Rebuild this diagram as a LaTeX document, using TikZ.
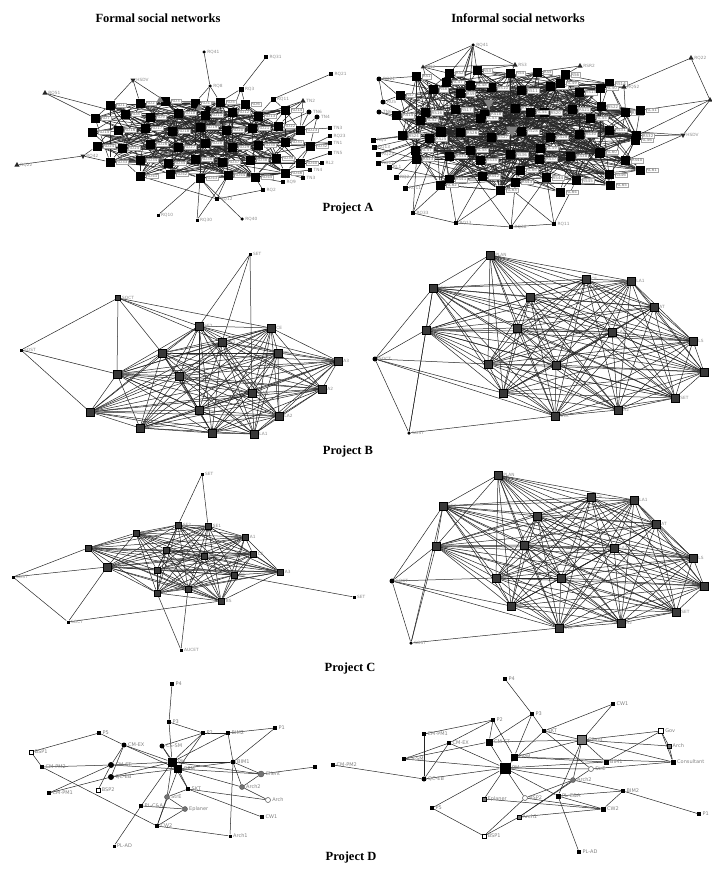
\documentclass[tikz,border=0pt]{standalone}
\usepackage{fontspec}
\setmainfont{Liberation Serif}
\newfontfamily\labfont{DejaVu Sans}
\usetikzlibrary{backgrounds,shapes.geometric}

\begin{document}
\begin{tikzpicture}[x=1pt,y=-1pt,
  edge/.style={line width=0.5pt, draw=black!85},
  ttl/.style={font=\fontsize{12.5}{14}\selectfont\bfseries, inner sep=0},
  lab/.style={font=\labfont\fontsize{4.3}{5}\selectfont, text=black!45, inner sep=0.5pt},
  dlab/.style={font=\labfont\fontsize{5}{6}\selectfont, text=black!50, inner sep=0.5pt},
  abox/.style={font=\labfont\fontsize{4}{4.5}\selectfont, text=black!55, fill=white, draw=black!35, line width=0.2pt, inner sep=0.8pt},
  bsq/.style={rectangle, fill=black!78, draw=black, line width=0.3pt, minimum size=7.5pt, inner sep=0},
  csq/.style={bsq, minimum size=6.5pt},
  msq/.style={bsq, minimum size=5pt},
  ssq/.style={rectangle, fill=black, minimum size=3pt, inner sep=0},
  sci/.style={circle, fill=black, minimum size=3.5pt, inner sep=0},
  asq/.style={rectangle, fill=black, minimum size=9pt, inner sep=0},
  atri/.style={regular polygon, regular polygon sides=3, fill=black!85, minimum size=8pt, inner sep=0},
  gtri/.style={atri, fill=black!50},
  dtri/.style={atri, shape border rotate=180},
  dsq/.style={rectangle, fill=black, minimum size=4pt, inner sep=0},
  gsq/.style={rectangle, fill=black!55, draw=black, line width=0.3pt, minimum size=4pt, inner sep=0},
  dci/.style={circle, fill=black, minimum size=5pt, inner sep=0},
  gci/.style={circle, fill=black!55, draw=black!70, minimum size=5pt, inner sep=0},
  osq/.style={rectangle, fill=white, draw=black, line width=0.5pt, minimum size=4pt, inner sep=0},
  oci/.style={circle, fill=white, draw=black!60, line width=0.6pt, minimum size=5pt, inner sep=0},
  label distance=0.8pt]
\useasboundingbox (0,0) rectangle (712,870);

% titles
\node[ttl] (t-formal) at (158,18) {Formal social networks};
\node[ttl] (t-informal) at (518,18) {Informal social networks};
\node[ttl] (t-A) at (348,208) {Project A};
\node[ttl] (t-B) at (348,451) {Project B};
\node[ttl] (t-C) at (350,668) {Project C};
\node[ttl] (t-D) at (351,857) {Project D};

%%%%%%%%%%%%%%%%%%%% Project A, formal
\foreach \x/\y [count=\i] in {110/105,140/103,165/101,195/103,220/102,245/104,
  95/118,125/114,150/117,178/113,205/115,232/112,258/116,285/110,
  92/132,118/130,145/128,172/131,200/127,226/130,252/128,278/126,300/130,
  97/146,122/148,150/144,178/147,205/143,232/147,258/145,285/142,310/146,
  110/162,140/160,168/163,195/159,222/162,250/160,276/158,300/163,
  140/176,170/174,200/178,228/175,255/177,285/173}
  \node[asq, label={[abox]right:RD\i}] (af\i) at (\x,\y) {};
\node[gtri] (af-t1) at (160,100) {};
\node[gtri] (af-t2) at (199,108) {};
\node[gtri] (af-t3) at (218,124) {};
\node[sci, minimum size=6pt] (af-c1) at (208,109) {};
\node[sci, label={[lab]right:RQ41}] (af-RQ41) at (204,52) {};
\node[ssq, minimum size=4pt, label={[lab]right:RQ31}] (af-RQ31) at (266,57) {};
\node[ssq, minimum size=4pt, label={[lab]right:RQ21}] (af-RQ21) at (331,74) {};
\node[dtri, minimum size=6pt, label={[lab]right:HSDV}] (af-HSDV) at (133,80) {};
\node[atri, minimum size=6pt, label={[lab]right:RQ51}] (af-RQ51) at (45,93) {};
\node[sci, label={[lab]right:RQ8}] (af-RQ8) at (210,86) {};
\node[ssq, minimum size=5pt, label={[lab]right:RQ3}] (af-RQ3) at (241,89) {};
\node[ssq, minimum size=5pt, label={[lab]right:RQ11}] (af-RQ11) at (273,99) {};
\node[atri, minimum size=6pt, label={[lab]right:TN2}] (af-TN2) at (303,101) {};
\node[sci, minimum size=5pt, label={[lab]right:TN6}] (af-TN6) at (309,112) {};
\node[sci, minimum size=5pt, label={[lab]right:TN4}] (af-TN4) at (317,117) {};
\node[ssq, minimum size=4pt, label={[lab]right:TN3}] (af-TN3) at (330,128) {};
\node[ssq, minimum size=4pt, label={[lab]right:RQ23}] (af-RQ23) at (330,136) {};
\node[ssq, minimum size=4pt, label={[lab]right:TN1}] (af-TN1) at (330,143) {};
\node[ssq, minimum size=4pt, label={[lab]right:TN5}] (af-TN5) at (330,153) {};
\node[ssq, minimum size=4pt, label={[lab]right:RL2}] (af-RL2) at (322,163) {};
\node[ssq, minimum size=4pt, label={[lab]right:TN4}] (af-TN4b) at (310,170) {};
\node[ssq, minimum size=4pt, label={[lab]right:TN3}] (af-TN3b) at (303,178) {};
\node[ssq, minimum size=4pt, label={[lab]right:RQ9}] (af-RQ9) at (283,182) {};
\node[atri, minimum size=6pt, label={[lab]right:RQ22}] (af-RQ22) at (17,165) {};
\node[dtri, minimum size=6pt, label={[lab]right:RQ42}] (af-RQ42) at (83,156) {};
\node[ssq, minimum size=4pt, label={[lab]right:RQ12}] (af-RQ12) at (217,199) {};
\node[ssq, label={[lab]right:RQ10}] (af-RQ10) at (158,215) {};
\node[ssq, label={[lab]right:RQ30}] (af-RQ30) at (197,220) {};
\node[sci, label={[lab]right:RQ40}] (af-RQ40) at (242,219) {};
\node[ssq, minimum size=4pt, label={[lab]right:RQ2}] (af-RQ2) at (263,190) {};
\begin{scope}[on background layer]
  \pgfmathsetseed{11}
  \foreach \k in {1,...,300}{
    \pgfmathtruncatemacro{\p}{random(1,46)}
    \pgfmathtruncatemacro{\q}{random(1,46)}
    \draw[edge] (af\p) -- (af\q);
  }
  \foreach \a/\b in {RQ8/4,RQ8/5,RQ8/11,RQ3/6,RQ3/12,RQ3/5,
    RQ11/13,RQ11/14,HSDV/1,HSDV/2,HSDV/3,RQ51/7,RQ51/8,
    TN2/14,TN2/23,TN2/22,TN2/13,TN6/23,TN6/22,TN4/32,TN4/31,TN3/23,RQ23/32,
    TN1/31,TN1/32,TN5/40,RL2/40,TN4b/46,TN3b/46,RQ9/45,RQ42/33,RQ42/24,
    RQ12/43,RQ12/44,RQ12/41,RQ10/43,RQ30/43,RQ30/44,RQ40/43,RQ2/45,
    t1/3,t1/9,t2/10,t2/4,t3/19,t3/11,c1/5,c1/18}
    \draw[edge] (af-\a) -- (af\b);
  \foreach \a/\b in {RQ41/RQ8,RQ31/RQ3,RQ21/RQ11,RQ22/RQ42,RQ2/RQ12}
    \draw[edge] (af-\a) -- (af-\b);
\end{scope}

%%%%%%%%%%%%%%%%%%%% Project A, informal
\foreach \x/\y [count=\i] in {110/105,140/103,165/101,195/103,220/102,245/104,
  95/118,125/114,150/117,178/113,205/115,232/112,258/116,285/110,
  92/132,118/130,145/128,172/131,200/127,226/130,252/128,278/126,300/130,
  97/146,122/148,150/144,178/147,205/143,232/147,258/145,285/142,310/146,
  110/162,140/160,168/163,195/159,222/162,250/160,276/158,300/163,
  140/176,170/174,200/178,228/175,255/177,285/173}
  \node[asq, label={[abox]right:RS\i}] (ai\i) at ({(\x-205)*1.1+521},{(\y-142)*1.45+130}) {};
\foreach \x/\y [count=\i from 47] in {446/82,470/85,560/83,600/88,640/110,420/120,
  480/118,530/112,590/118,635/140,415/150,470/150,540/148,600/152,640/170,
  440/185,500/190,560/192,610/185,520/170}
  \node[asq, label={[abox]right:RC\i}] (ai\i) at (\x,\y) {};
\node[dtri, fill=black!50, minimum size=14pt] (ai-t1) at (512,130) {};
\node[dtri, fill=black!50, minimum size=12pt] (ai-t2) at (489,103) {};
\node[asq, minimum size=10pt] (ai-hub) at (441,132) {};
\node[sci, label={[lab]right:RQ41}] (ai-RQ41) at (473,45) {};
\node[atri, minimum size=5pt, label={[lab]right:RN2}] (ai-RN2) at (423,67) {};
\node[sci, minimum size=5pt, label={[lab]right:RQ21}] (ai-RQ21) at (379,79) {};
\node[sci, minimum size=5pt, label={[lab]right:RU5}] (ai-RU5) at (383,102) {};
\node[sci, minimum size=5pt, label={[lab]right:TN6}] (ai-TN6) at (379,112) {};
\node[ssq, minimum size=5pt, label={[lab]right:RQ3}] (ai-L1) at (373,140) {};
\node[ssq, minimum size=5pt, label={[lab]right:RQ13}] (ai-L2) at (374,147) {};
\node[ssq, minimum size=5pt, label={[lab]right:RQ23}] (ai-L3) at (378,154) {};
\node[ssq, minimum size=5pt, label={[lab]right:RQ12}] (ai-L4) at (378,163) {};
\node[ssq, minimum size=5pt, label={[lab]right:RL1}] (ai-L5) at (389,167) {};
\node[ssq, minimum size=5pt, label={[lab]right:RQ2}] (ai-L6) at (396,177) {};
\node[ssq, minimum size=5pt, label={[lab]right:RQ11}] (ai-L7) at (405,188) {};
\node[ssq, minimum size=4pt, label={[lab]right:RQ33}] (ai-B1) at (413,213) {};
\node[ssq, minimum size=4pt, label={[lab]right:RQ13}] (ai-B2) at (456,223) {};
\node[ssq, minimum size=4pt, label={[lab]right:RQ38}] (ai-B3) at (511,227) {};
\node[ssq, minimum size=4pt, label={[lab]right:RQ11}] (ai-B4) at (554,224) {};
\node[atri, minimum size=6pt, label={[lab]right:RS3}] (ai-RS3) at (515,65) {};
\node[atri, minimum size=6pt, label={[lab]right:RSR2}] (ai-RSR2) at (580,66) {};
\node[atri, minimum size=6pt, label={[lab]right:RQ52}] (ai-RQ52) at (624,87) {};
\node[atri, minimum size=6pt, label={[lab]right:RQ22}] (ai-RQ22) at (691,58) {};
\node[atri, minimum size=6pt] (ai-RT) at (710,100) {};
\node[dtri, minimum size=6pt, label={[lab]right:HSDV}] (ai-HSDV) at (683,135) {};
\begin{scope}[on background layer]
  \pgfmathsetseed{23}
  \foreach \k in {1,...,480}{
    \pgfmathtruncatemacro{\p}{random(1,66)}
    \pgfmathtruncatemacro{\q}{random(1,66)}
    \draw[edge] (ai\p) -- (ai\q);
  }
  \foreach \k in {1,3,...,65} \draw[edge] (ai-hub) -- (ai\k);
  \foreach \a in {RQ41,RN2,RQ21,RU5,TN6,L1,L2,L3,L4,L5,L6,L7,B1,B2,B3,B4}
    \draw[edge] (ai-hub) -- (ai-\a);
  \foreach \a/\b in {RQ41/3,RQ41/9,RQ41/17,RQ41/2,RQ41/48,RN2/2,RN2/9,RQ21/1,RQ21/8,
    RU5/7,TN6/15,L1/24,L2/33,L3/25,L4/34,L5/41,L6/42,L7/41,B1/41,B1/33,B2/42,B2/43,
    B3/43,B3/44,B4/44,B4/45,RS3/3,RS3/4,RSR2/5,RSR2/6,RQ52/13,RQ52/14,RQ52/23,
    RT/23,RT/32,HSDV/32,HSDV/31,HSDV/40,t1/19,t1/28,t1/11,t2/10,t2/18}
    \draw[edge] (ai-\a) -- (ai\b);
  \foreach \a/\b in {RQ41/RN2,RQ41/RS3,RN2/RS3,B1/B2,B2/B3,B3/B4,RQ22/RT,RQ22/RQ52,
    RT/HSDV,RQ21/RU5}
    \draw[edge] (ai-\a) -- (ai-\b);
\end{scope}

%%%%%%%%%%%%%%%%%%%% Project B, formal
\node[ssq, label={[lab]right:SET}] (bf-SET) at (250,254) {};
\node[msq, label={[lab]right:SOCT}] (bf-SOCT) at (118,298) {};
\node[ssq, label={[lab]right:SOST}] (bf-SOST) at (21,350) {};
\node[bsq, label={[lab]right:SOMT}] (bf-SOMT) at (117,374) {};
\node[bsq, label={[lab]right:SE2}] (bf-SE2) at (199,326) {};
\node[bsq, label={[lab]right:CE}] (bf-CE) at (271,328) {};
\node[bsq, label={[lab]right:SE1}] (bf-SE1) at (222,342) {};
\node[bsq, label={[lab]right:QE}] (bf-QE) at (162,353) {};
\node[bsq, label={[lab]right:BS}] (bf-BS) at (278,353) {};
\node[bsq, label={[lab]right:A3}] (bf-A3) at (338,361) {};
\node[bsq, label={[lab]right:A1}] (bf-A1) at (179,376) {};
\node[bsq, label={[lab]right:PLAN}] (bf-PLAN) at (252,393) {};
\node[bsq, label={[lab]right:A2}] (bf-A2) at (322,389) {};
\node[bsq, label={[lab]right:CTA}] (bf-CTA) at (90,412) {};
\node[bsq, label={[lab]right:CE}] (bf-CE2) at (199,410) {};
\node[bsq, label={[lab]right:LA2}] (bf-LA2) at (279,416) {};
\node[bsq, label={[lab]right:AT}] (bf-AT) at (140,428) {};
\node[bsq, label={[lab]right:LS}] (bf-LS) at (212,433) {};
\node[bsq, label={[lab]right:LA1}] (bf-LA1) at (254,434) {};
\def\bflist{SOMT,SE2,CE,SE1,QE,BS,A3,A1,PLAN,A2,CTA,CE2,LA2,AT,LS,LA1}
\begin{scope}[on background layer]
  \foreach \a [count=\i] in \bflist {
    \foreach \b [count=\j] in \bflist {
      \ifnum\j>\i \draw[edge] (bf-\a) -- (bf-\b); \fi
    }
  }
  \foreach \a/\b in {SET/SE2,SET/SE1,SET/PLAN,SOCT/SOST,SOCT/SOMT,SOCT/QE,SOCT/SE2,
    SOCT/CE,SOCT/SE1,SOST/SOMT,SOST/CTA}
    \draw[edge] (bf-\a) -- (bf-\b);
\end{scope}

%%%%%%%%%%%%%%%%%%%% Project B, informal
\node[bsq, label={[lab]right:PLAN}] (bi-PLAN) at (490,255) {};
\node[bsq, label={[lab]right:CE}] (bi-CE) at (586,279) {};
\node[bsq, label={[lab]right:LA1}] (bi-LA1) at (631,281) {};
\node[bsq, label={[lab]right:SE1}] (bi-SE1) at (433,288) {};
\node[bsq, label={[lab]right:QE}] (bi-QE) at (530,297) {};
\node[bsq, label={[lab]right:AT}] (bi-AT) at (654,307) {};
\node[bsq, label={[lab]right:SOMT}] (bi-SOMT) at (426,330) {};
\node[bsq, label={[lab]right:SE2}] (bi-SE2) at (517,328) {};
\node[bsq, label={[lab]right:LA2}] (bi-LA2) at (612,332) {};
\node[bsq, label={[lab]right:LS}] (bi-LS) at (693,341) {};
\node[sci, minimum size=5pt, label={[lab]right:SOCT}] (bi-SOCT) at (375,359) {};
\node[bsq, label={[lab]right:BS}] (bi-BS) at (488,364) {};
\node[bsq, label={[lab]right:A1}] (bi-A1) at (556,365) {};
\node[bsq] (bi-A3) at (704,372) {};
\node[bsq, label={[lab]right:CE}] (bi-CE2) at (503,393) {};
\node[bsq, label={[lab]right:SET}] (bi-SET) at (675,398) {};
\node[bsq, label={[lab]right:A2}] (bi-A2) at (618,410) {};
\node[bsq, label={[lab]right:CTA}] (bi-CTA) at (555,416) {};
\node[sci, label={[lab]right:SOST}] (bi-SOST) at (409,433) {};
\def\bilist{PLAN,CE,LA1,SE1,QE,AT,SOMT,SE2,LA2,LS,BS,A1,A3,CE2,SET,A2,CTA}
\begin{scope}[on background layer]
  \foreach \a [count=\i] in \bilist {
    \foreach \b [count=\j] in \bilist {
      \ifnum\j>\i \draw[edge] (bi-\a) -- (bi-\b); \fi
    }
  }
  \foreach \a/\b in {SOCT/SE1,SOCT/SOST,SOCT/BS,SOCT/CE2,SOCT/CTA,SOCT/SOMT,
    SOST/SOMT,SOST/CTA,SOST/SE1}
    \draw[edge] (bi-\a) -- (bi-\b);
\end{scope}

%%%%%%%%%%%%%%%%%%%% Project C, formal
\node[ssq, label={[lab]right:SET}] (cf-SET) at (202,474) {};
\node[csq, label={[lab]right:SE2}] (cf-SE2) at (178,525) {};
\node[csq, label={[lab]right:SE1}] (cf-SE1) at (208,526) {};
\node[csq, label={[lab]right:PLAN}] (cf-PLAN) at (136,533) {};
\node[csq, label={[lab]right:A1}] (cf-A1) at (245,537) {};
\node[csq, label={[lab]right:CTA}] (cf-CTA) at (88,548) {};
\node[csq, label={[lab]right:LS}] (cf-LS) at (166,550) {};
\node[csq, label={[lab]right:LA2}] (cf-LA2) at (204,556) {};
\node[csq, label={[lab]right:CE}] (cf-CE) at (253,554) {};
\node[bsq, label={[lab]right:SOMT}] (cf-SOMT) at (107,567) {};
\node[csq, label={[lab]right:LA1}] (cf-LA1) at (157,570) {};
\node[csq, label={[lab]right:A3}] (cf-A3) at (280,572) {};
\node[csq, label={[lab]right:QE}] (cf-QE) at (234,575) {};
\node[ssq, label={[lab]right:SOST}] (cf-SOST) at (13,577) {};
\node[csq, label={[lab]right:A2}] (cf-A2) at (157,593) {};
\node[csq, label={[lab]right:CE}] (cf-CE2) at (188,589) {};
\node[csq, label={[lab]right:BS}] (cf-BS) at (221,601) {};
\node[ssq, label={[lab]right:SET}] (cf-SETr) at (354,597) {};
\node[ssq, label={[lab]right:SOCT}] (cf-SOCT) at (68,622) {};
\node[ssq, label={[lab]right:AUCET}] (cf-AUCET) at (181,650) {};
\def\cflist{SE2,SE1,PLAN,A1,CTA,LS,LA2,CE,SOMT,LA1,A3,QE,A2,CE2,BS}
\begin{scope}[on background layer]
  \foreach \a [count=\i] in \cflist {
    \foreach \b [count=\j] in \cflist {
      \ifnum\j>\i \draw[edge] (cf-\a) -- (cf-\b); \fi
    }
  }
  \foreach \a/\b in {SET/SE2,SET/SE1,SOST/CTA,SOST/SOMT,SOST/SOCT,SOCT/SOMT,
    SOCT/BS,QE/SETr,AUCET/A2,AUCET/CE2}
    \draw[edge] (cf-\a) -- (cf-\b);
\end{scope}

%%%%%%%%%%%%%%%%%%%% Project C, informal
\node[bsq, label={[lab]right:PLAN}] (ci-PLAN) at (498,475) {};
\node[bsq, label={[lab]right:CE}] (ci-CE) at (591,497) {};
\node[bsq, label={[lab]right:LA1}] (ci-LA1) at (634,500) {};
\node[bsq, label={[lab]right:SE1}] (ci-SE1) at (443,506) {};
\node[bsq, label={[lab]right:QE}] (ci-QE) at (537,516) {};
\node[bsq, label={[lab]right:AT}] (ci-AT) at (656,524) {};
\node[bsq, label={[lab]right:SOMT}] (ci-SOMT) at (436,546) {};
\node[bsq, label={[lab]right:SE2}] (ci-SE2) at (524,545) {};
\node[bsq, label={[lab]right:LA2}] (ci-LA2) at (614,548) {};
\node[bsq, label={[lab]right:LS}] (ci-LS) at (693,558) {};
\node[sci, minimum size=5pt, label={[lab]right:SOCT}] (ci-SOCT) at (392,581) {};
\node[bsq, label={[lab]right:BS}] (ci-BS) at (496,578) {};
\node[bsq, label={[lab]right:A1}] (ci-A1) at (561,578) {};
\node[bsq] (ci-A3) at (704,586) {};
\node[bsq, label={[lab]right:CE}] (ci-CE2) at (511,606) {};
\node[bsq, label={[lab]right:SET}] (ci-SET) at (676,612) {};
\node[bsq, label={[lab]right:A2}] (ci-A2) at (621,623) {};
\node[bsq, label={[lab]right:CTA}] (ci-CTA) at (559,628) {};
\node[sci, label={[lab]right:SOST}] (ci-SOST) at (411,643) {};
\def\cilist{PLAN,CE,LA1,SE1,QE,AT,SOMT,SE2,LA2,LS,BS,A1,A3,CE2,SET,A2,CTA}
\begin{scope}[on background layer]
  \foreach \a [count=\i] in \cilist {
    \foreach \b [count=\j] in \cilist {
      \ifnum\j>\i \draw[edge] (ci-\a) -- (ci-\b); \fi
    }
  }
  \foreach \a/\b in {SOCT/SE1,SOCT/SOST,SOCT/BS,SOCT/CE2,SOCT/CTA,SOCT/SOMT,
    SOST/SOMT,SOST/CTA,SOST/SE1}
    \draw[edge] (ci-\a) -- (ci-\b);
\end{scope}

%%%%%%%%%%%%%%%%%%%% Project D, formal
\node[dsq, label={[dlab]right:P4}] (df-P4) at (172,684) {};
\node[dsq, label={[dlab]right:P3}] (df-P3) at (169,722) {};
\node[dsq, label={[dlab]right:P2}] (df-P2) at (203,733) {};
\node[dsq, label={[dlab]right:BIM2}] (df-BIM2) at (228,733) {};
\node[dsq, label={[dlab]right:P1}] (df-P1) at (275,728) {};
\node[dsq, label={[dlab]right:P5}] (df-P5) at (99,733) {};
\node[dci, label={[dlab]right:CM-EX}] (df-CMEX) at (124,745) {};
\node[dci, label={[dlab]right:CS-SM}] (df-CSSM) at (162,746) {};
\node[osq, label={[dlab]right:BSP1}] (df-BSP1) at (31,752) {};
\node[dsq, minimum size=9pt, label={[dlab]right:PM}] (df-PM) at (172,762) {};
\node[dsq, minimum size=8pt, label={[dlab]right:OPM}] (df-OPM) at (178,769) {};
\node[dci, minimum size=6pt, label={[dlab]right:CM-ST}] (df-CMST) at (111,765) {};
\node[dci, label={[dlab]right:BIM1}] (df-BIM1) at (233,762) {};
\node[dsq, label={[dlab]right:CM-PM2}] (df-CMPM2) at (42,767) {};
\node[dsq] (df-X) at (315,767) {};
\node[gci, minimum size=6pt, label={[dlab]right:Client}] (df-Client) at (261,774) {};
\node[dci, minimum size=6pt, label={[dlab]right:QC-EB}] (df-QCEB) at (111,777) {};
\node[dsq, label={[dlab]right:SKT}] (df-SKT) at (188,789) {};
\node[gci, label={[dlab]right:Arch2}] (df-Arch2) at (242,787) {};
\node[osq, label={[dlab]right:BSP2}] (df-BSP2) at (98,790) {};
\node[dsq, label={[dlab]right:CM-PM1}] (df-CMPM1) at (49,793) {};
\node[gci, label={[dlab]right:StrE}] (df-StrE) at (167,797) {};
\node[oci, label={[dlab]right:Arch}] (df-Arch) at (268,800) {};
\node[dsq, label={[dlab]right:PL-C\&A}] (df-PLCA) at (141,806) {};
\node[gci, label={[dlab]right:Eplaner}] (df-Eplaner) at (185,809) {};
\node[dsq, label={[dlab]right:CW1}] (df-CW1) at (262,817) {};
\node[dsq, label={[dlab]right:CW2}] (df-CW2) at (157,826) {};
\node[dsq, minimum size=3pt, label={[dlab]right:Arch1}] (df-Arch1) at (230,836) {};
\node[dsq, minimum size=3pt, label={[dlab]right:PL-AD}] (df-PLAD) at (114,846) {};
\begin{scope}[on background layer]
  \foreach \a/\b in {P4/P3,P3/PM,P3/P2,P2/PM,P2/OPM,P2/BIM2,BIM2/PM,BIM2/BIM1,
    P1/BIM2,P1/BIM1,P5/BSP1,P5/CMEX,CMEX/CMST,CMEX/QCEB,CMEX/PM,CMEX/OPM,
    CSSM/PM,CSSM/P2,CSSM/OPM,BSP1/CMPM2,CMPM2/CMST,CMPM2/CW2,CMPM1/CMST,
    CMPM1/QCEB,QCEB/PM,QCEB/OPM,CMST/PM,CMST/OPM,BSP2/CMST,PM/BIM1,PM/Client,
    OPM/Client,OPM/Arch2,OPM/SKT,PM/StrE,PM/PLCA,OPM/CW2,PM/SKT,SKT/CW1,SKT/Arch,
    SKT/StrE,StrE/Eplaner,PLCA/Eplaner,CW2/Eplaner,CW2/Arch1,CW2/StrE,PLCA/PLAD,
    BIM1/Arch1,Arch2/Arch,Client/X,Client/Arch2,BIM1/Client,BIM1/Arch2,OPM/BIM1}
    \draw[edge] (df-\a) -- (df-\b);
\end{scope}

%%%%%%%%%%%%%%%%%%%% Project D, informal
\node[dsq, label={[dlab]right:P4}] (di-P4) at (505,679) {};
\node[dsq, label={[dlab]right:P3}] (di-P3) at (532,714) {};
\node[dsq, label={[dlab]right:CW1}] (di-CW1) at (613,704) {};
\node[dsq, label={[dlab]right:P2}] (di-P2) at (493,720) {};
\node[dsq, label={[dlab]right:SKT}] (di-SKT) at (544,731) {};
\node[dsq, label={[dlab]right:CM-PM1}] (di-CMPM1) at (424,734) {};
\node[dsq, label={[dlab]right:CM-EX}] (di-CMEX) at (449,743) {};
\node[dsq, minimum size=7pt, label={[dlab]right:CM-ST}] (di-CMST) at (489,742) {};
\node[gsq, minimum size=9pt, label={[dlab]right:Client}] (di-Client) at (582,740) {};
\node[osq, minimum size=5pt, label={[dlab]right:Gov}] (di-Gov) at (661,731) {};
\node[gsq, label={[dlab]right:Arch}] (di-Arch) at (669,746) {};
\node[dsq, minimum size=7pt, label={[dlab]right:OPM}] (di-OPM) at (514,757) {};
\node[dsq, label={[dlab]right:CS-SM}] (di-CSSM) at (404,759) {};
\node[dsq, minimum size=5pt, label={[dlab]right:BIM1}] (di-BIM1) at (606,762) {};
\node[dsq, minimum size=5pt, label={[dlab]right:Consultant}] (di-Consultant) at (673,762) {};
\node[dsq, minimum size=11pt, label={[dlab]right:PM}] (di-PM) at (505,768) {};
\node[oci, label={[dlab]right:StrE}] (di-StrE) at (591,769) {};
\node[dci, label={[dlab]right:QC-EB}] (di-QCEB) at (424,779) {};
\node[gci, label={[dlab]right:Arch2}] (di-Arch2) at (573,780) {};
\node[dsq, label={[dlab]right:BIM2}] (di-BIM2) at (623,791) {};
\node[oci, label={[dlab]right:BSP2}] (di-BSP2) at (525,798) {};
\node[dsq, minimum size=5pt, label={[dlab]right:PL-C\&A}] (di-PLCA) at (558,796) {};
\node[gsq, label={[dlab]right:Eplaner}] (di-Eplaner) at (484,799) {};
\node[dsq, label={[dlab]right:P5}] (di-P5) at (432,808) {};
\node[dsq, minimum size=5pt, label={[dlab]right:CW2}] (di-CW2) at (603,809) {};
\node[dsq, label={[dlab]right:P1}] (di-P1) at (699,814) {};
\node[gsq, label={[dlab]right:Arch1}] (di-Arch1) at (519,817) {};
\node[osq, label={[dlab]right:BSP1}] (di-BSP1) at (484,836) {};
\node[dsq, label={[dlab]right:PL-AD}] (di-PLAD) at (579,852) {};
\node[dsq, label={[dlab]right:CM-PM2}] (di-CMPM2) at (333,765) {};
\begin{scope}[on background layer]
  \foreach \a/\b in {P4/P3,P3/SKT,P3/CMST,P3/OPM,P2/CMPM1,P2/CMST,P2/OPM,P2/CMEX,
    CMPM1/QCEB,CMEX/PM,CMEX/QCEB,CMEX/CSSM,CSSM/PM,CSSM/CMST,CMST/PM,CMST/Client,
    SKT/CW1,CW1/Client,SKT/Client,SKT/PM,SKT/StrE,Client/Gov,Client/Arch,
    Client/Consultant,Client/BIM1,Client/Arch2,Client/OPM,Client/PLCA,Gov/Arch,
    Gov/Consultant,Gov/BIM1,Arch/Consultant,Consultant/StrE,Consultant/OPM,BIM1/PM,
    BIM1/OPM,PM/StrE,PM/Arch2,PM/Eplaner,PM/BSP2,PM/P5,PM/QCEB,PM/PLCA,CMPM2/QCEB,
    Arch2/BSP2,Arch2/BIM2,Arch2/Arch1,PLCA/CW2,PLCA/PLAD,PLCA/BIM2,BIM2/P1,BIM2/CW2,
    CW2/Arch1,CW2/Eplaner,BSP2/BSP1,Arch1/BSP1,P5/BSP1,Arch1/StrE,BSP2/CW2}
    \draw[edge] (di-\a) -- (di-\b);
\end{scope}
\end{tikzpicture}
\end{document}
